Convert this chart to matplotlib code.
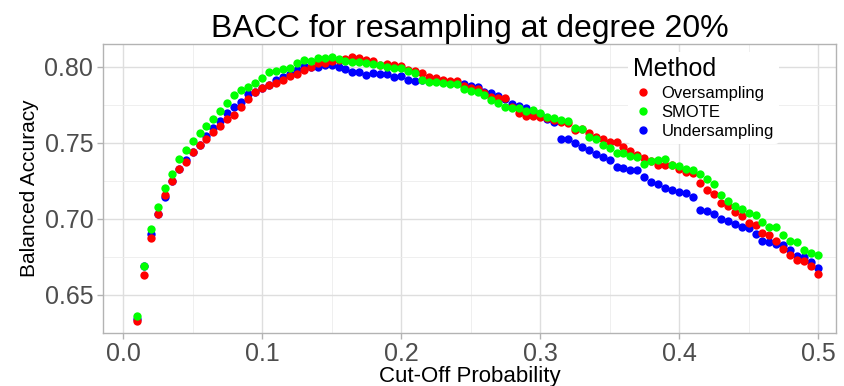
import numpy as np
import matplotlib
matplotlib.use("Agg")
import matplotlib.pyplot as plt
from matplotlib.ticker import MultipleLocator

plt.rcParams['font.family'] = ['Liberation Sans', 'DejaVu Sans']

# cut-off grid 0.010 .. 0.500 in steps of 0.005
cutoff = np.round(np.arange(0.01, 0.5001, 0.005), 3)

oversampling = [
    0.6330, 0.6630, 0.6870, 0.7030, 0.7155, 0.7245, 0.7324, 0.7376, 0.7438, 0.7482,
    0.7526, 0.7567, 0.7607, 0.7655, 0.7684, 0.7732, 0.7785, 0.7831, 0.7860, 0.7879,
    0.7895, 0.7912, 0.7939, 0.7949, 0.7978, 0.8000, 0.8022, 0.8022, 0.8040, 0.8045,
    0.8050, 0.8063, 0.8060, 0.8043, 0.8039, 0.8010, 0.8020, 0.8010, 0.8007, 0.7980,
    0.7974, 0.7957, 0.7935, 0.7925, 0.7910, 0.7905, 0.7907, 0.7875, 0.7857, 0.7850,
    0.7825, 0.7802, 0.7795, 0.7791, 0.7735, 0.7696, 0.7676, 0.7676, 0.7670, 0.7665,
    0.7652, 0.7637, 0.7630, 0.7586, 0.7592, 0.7565, 0.7540, 0.7521, 0.7506, 0.7506,
    0.7473, 0.7447, 0.7422, 0.7396, 0.7380, 0.7352, 0.7352, 0.7350, 0.7324, 0.7308,
    0.7300, 0.7236, 0.7188, 0.7161, 0.7104, 0.7082, 0.7045, 0.7016, 0.6972, 0.6957,
    0.6906, 0.6895, 0.6852, 0.6803, 0.6759, 0.6726, 0.6722, 0.6687, 0.6639,
]

smote = [
    0.6357, 0.6687, 0.6935, 0.7078, 0.7201, 0.7297, 0.7392, 0.7453, 0.7508, 0.7565,
    0.7609, 0.7655, 0.7710, 0.7763, 0.7811, 0.7846, 0.7868, 0.7890, 0.7925, 0.7965,
    0.7971, 0.7982, 0.7991, 0.8022, 0.8044, 0.8040, 0.8057, 0.8055, 0.8063, 0.8050,
    0.8037, 0.8033, 0.8028, 0.8022, 0.8020, 0.8010, 0.7998, 0.7989, 0.7989, 0.7972,
    0.7957, 0.7913, 0.7898, 0.7898, 0.7893, 0.7885, 0.7885, 0.7850, 0.7841, 0.7835,
    0.7813, 0.7780, 0.7762, 0.7736, 0.7725, 0.7725, 0.7709, 0.7714, 0.7696, 0.7670,
    0.7665, 0.7648, 0.7641, 0.7597, 0.7590, 0.7539, 0.7521, 0.7486, 0.7462, 0.7433,
    0.7429, 0.7411, 0.7407, 0.7363, 0.7381, 0.7385, 0.7390, 0.7352, 0.7346, 0.7330,
    0.7319, 0.7297, 0.7264, 0.7227, 0.7155, 0.7117, 0.7082, 0.7067, 0.7038, 0.7023,
    0.6979, 0.6946, 0.6946, 0.6891, 0.6854, 0.6850, 0.6792, 0.6775, 0.6759,
]

undersampling = [
    0.6340, 0.6687, 0.6898, 0.7032, 0.7144, 0.7245, 0.7324, 0.7385, 0.7438, 0.7486,
    0.7541, 0.7596, 0.7642, 0.7693, 0.7736, 0.7769, 0.7820, 0.7835, 0.7857, 0.7879,
    0.7912, 0.7934, 0.7949, 0.7978, 0.8004, 0.8000, 0.8000, 0.8009, 0.8011, 0.8000,
    0.7985, 0.7967, 0.7963, 0.7946, 0.7957, 0.7952, 0.7950, 0.7930, 0.7937, 0.7913,
    0.7907, 0.7913, 0.7917, 0.7917, 0.7907, 0.7900, 0.7895, 0.7885, 0.7875, 0.7863,
    0.7835, 0.7824, 0.7810, 0.7785, 0.7753, 0.7744, 0.7731, 0.7710, 0.7690, 0.7659,
    0.7637, 0.7522, 0.7522, 0.7498, 0.7469, 0.7450, 0.7425, 0.7403, 0.7385, 0.7341,
    0.7332, 0.7319, 0.7319, 0.7275, 0.7242, 0.7225, 0.7203, 0.7192, 0.7174, 0.7170,
    0.7144, 0.7060, 0.7051, 0.7034, 0.7000, 0.6985, 0.6968, 0.6946, 0.6940, 0.6898,
    0.6854, 0.6847, 0.6832, 0.6830, 0.6797, 0.6753, 0.6750, 0.6715, 0.6678,
]

methods = ['Oversampling', 'SMOTE', 'Undersampling']
colors = {'Oversampling': '#FF0000', 'SMOTE': '#00FF00', 'Undersampling': '#0000FF'}
series = {'Oversampling': oversampling, 'SMOTE': smote, 'Undersampling': undersampling}

fig = plt.figure(figsize=(8.45, 3.86), dpi=100)
ax = fig.add_axes([0.122, 0.138, 0.867, 0.748])

# draw order: blue under, green on top
for m in ['Undersampling', 'Oversampling', 'SMOTE']:
    ax.scatter(cutoff, series[m], s=36, color=colors[m], linewidths=0, zorder=3)

# legend handles in ggplot order
handles = [plt.Line2D([], [], marker='o', ls='', color=colors[m], markersize=5) for m in methods]
leg = ax.legend(handles, methods, title='Method', loc='upper left', bbox_to_anchor=(0.705, 1.0),
                fontsize=12, title_fontsize=18, frameon=True, facecolor='white', edgecolor='none',
                framealpha=1, handletextpad=0.5, labelspacing=0.25, borderpad=0.3,
                alignment='left', handlelength=1.2)
leg.set_zorder(5)

ax.set_xlim(-0.0144, 0.5127)
ax.set_ylim(0.625, 0.8149)
ax.xaxis.set_major_locator(MultipleLocator(0.1))
ax.xaxis.set_minor_locator(MultipleLocator(0.05))
ax.yaxis.set_minor_locator(MultipleLocator(0.025))
ax.set_yticks([0.65, 0.70, 0.75, 0.80])
ax.set_yticklabels(['0.65', '0.70', '0.75', '0.80'])
ax.grid(which='major', color='#DEDEDE', lw=1.0, zorder=0)
ax.grid(which='minor', color='#EDEDED', lw=0.6, zorder=0)
ax.set_axisbelow(True)

for sp in ax.spines.values():
    sp.set_color('#B3B3B3')
    sp.set_linewidth(1.0)
ax.tick_params(which='major', length=4, width=1, color='#B3B3B3', labelsize=18, labelcolor='#4D4D4D', pad=3)
ax.tick_params(which='minor', length=0)

ax.set_xlabel('Cut-Off Probability', fontsize=16, labelpad=0)
ax.set_ylabel('Balanced Accuracy', fontsize=15, labelpad=4)
ax.set_title('BACC for resampling at degree 20%', fontsize=23, pad=5)

fig.savefig('out.png', dpi=100)
